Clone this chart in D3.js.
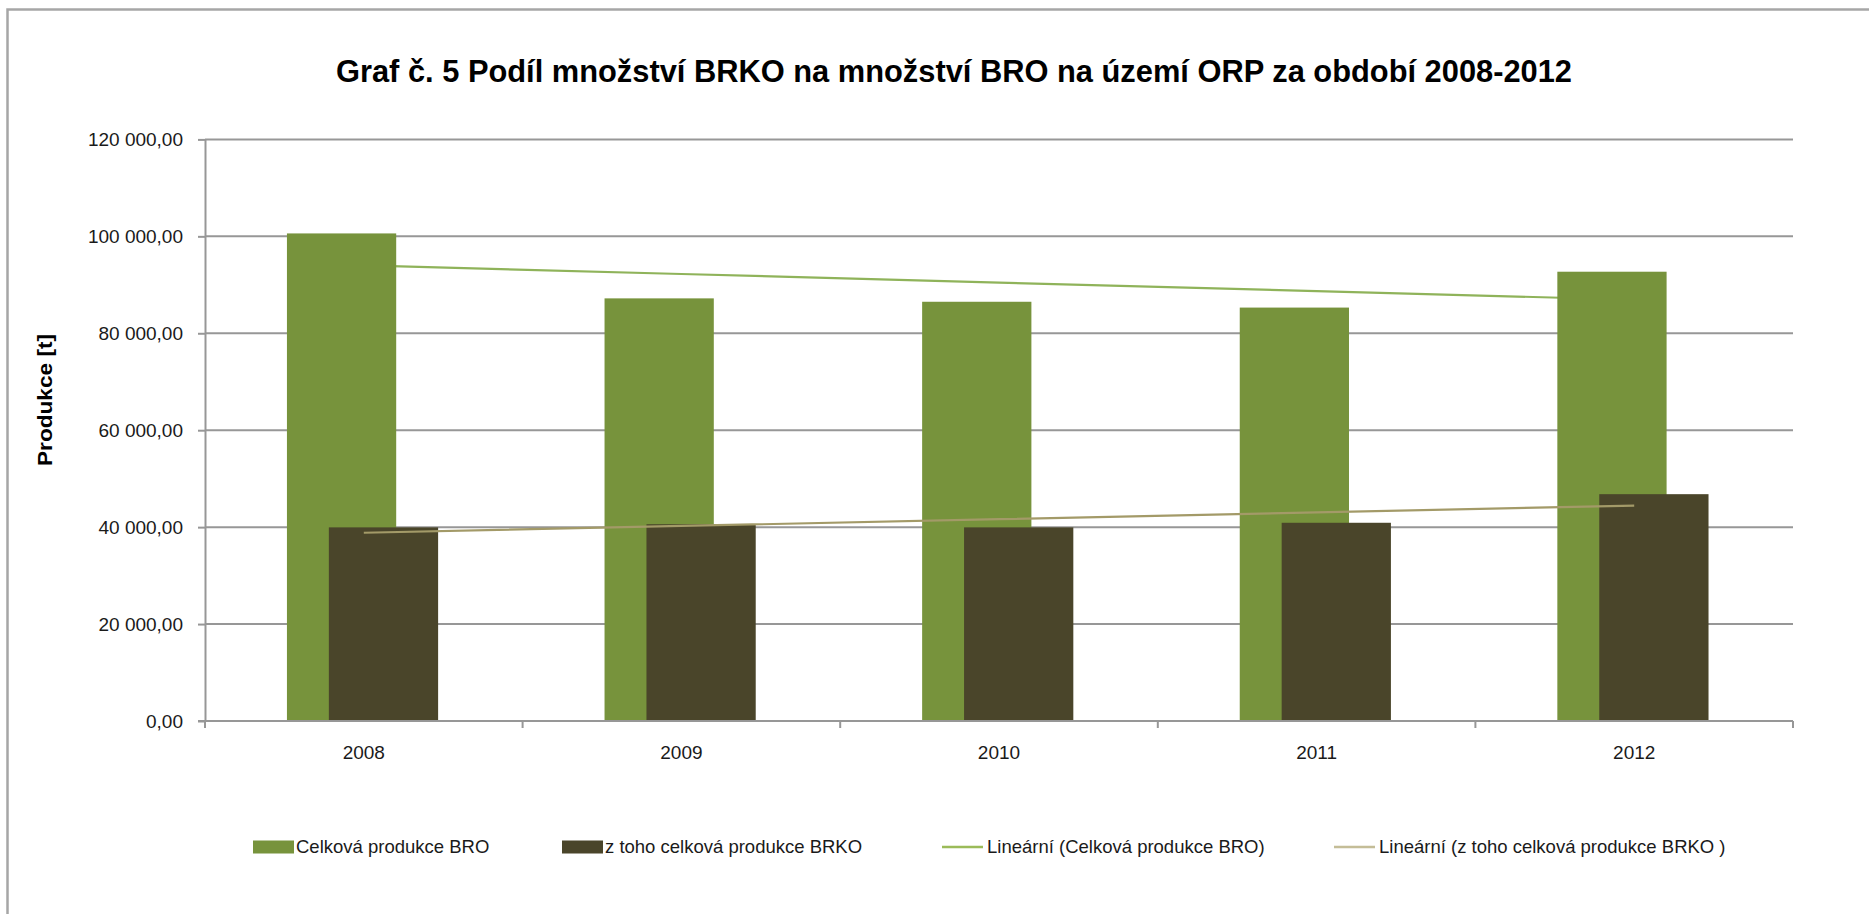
<!DOCTYPE html>
<html>
<head>
<meta charset="utf-8">
<script src="https://cdn.jsdelivr.net/npm/d3@7"></script>
<style>
  html, body { margin: 0; padding: 0; background: #ffffff; }
  svg { display: block; }
</style>
</head>
<body>
<svg id="chart" width="1869" height="914"></svg>
<script>
// ---------- data ----------
const title = "Graf č. 5 Podíl množství BRKO na množství BRO na území ORP za období 2008-2012";
const yAxisTitle = "Produkce [t]";
const categories = ["2008", "2009", "2010", "2011", "2012"];
const broValues  = [100600, 87200, 86500, 85300, 92700];   // Celková produkce BRO
const brkoValues = [39950, 40600, 39950, 40900, 46800];    // z toho celková produkce BRKO
const yTicks = [0, 20000, 40000, 60000, 80000, 100000, 120000];
const seriesNames = ["Celková produkce BRO", "z toho celková produkce BRKO"];
const trendNames = ["Lineární (Celková produkce BRO)", "Lineární (z toho celková produkce BRKO )"];

// ---------- layout ----------
const W = 1869, H = 914;
const plot = { left: 205, right: 1793, top: 139.4, bottom: 721 };
const colors = { bro: "#77933c", brko: "#4a452a", broTrend: "#8fb35a", brkoTrend: "#a39a68",
                 grid: "#979797", text: "#1a1a1a", border: "#a6a6a6" };
const svg = d3.select("#chart");

// outer chart border (left and top visible, right/bottom clipped)
svg.append("rect").attr("x", 7.5).attr("y", 9.5).attr("width", W + 20).attr("height", H + 20)
  .attr("fill", "#fff").attr("stroke", colors.border).attr("stroke-width", 2.5);

const x = d3.scaleBand().domain(categories).range([plot.left, plot.right]);
const y = d3.scaleLinear().domain([0, 120000]).range([plot.bottom, plot.top]);
const bw = x.bandwidth();

const cz = d3.formatLocale({ decimal: ",", thousands: " ", grouping: [3], currency: ["", " Kč"] });
const fmt = cz.format(",.2f");

// gridlines
svg.append("g").selectAll("line").data(yTicks.filter(d => d > 0)).join("line")
  .attr("x1", plot.left).attr("x2", plot.right)
  .attr("y1", d => y(d)).attr("y2", d => y(d))
  .attr("stroke", colors.grid).attr("stroke-width", 2);

// y axis
const yAxis = svg.append("g").attr("transform", `translate(${plot.left},0)`)
  .call(d3.axisLeft(y).tickValues(yTicks).tickFormat(fmt).tickSize(7).tickPadding(15).tickSizeOuter(0));
yAxis.select(".domain").attr("stroke", colors.grid).attr("stroke-width", 2);
yAxis.selectAll(".tick line").attr("stroke", colors.grid).attr("stroke-width", 2);
yAxis.selectAll("text").attr("font-family", "Liberation Sans, Arial, sans-serif")
  .attr("font-size", 19).attr("fill", colors.text);

// regression helper (Excel linear trendline over x = 1..n)
function linfit(vals) {
  const n = vals.length, xs = vals.map((_, i) => i + 1);
  const mx = d3.mean(xs), my = d3.mean(vals);
  const b = d3.sum(xs.map((xi, i) => (xi - mx) * (vals[i] - my))) / d3.sum(xs.map(xi => (xi - mx) ** 2));
  const a = my - b * mx;
  return xs.map(xi => a + b * xi);
}
const cx = c => x(c) + bw / 2;
const trendLine = d3.line().x(d => cx(d.c)).y(d => y(d.v));

// BRO trendline (sits under the bars)
const broFit = linfit(broValues);
svg.append("path").datum(categories.map((c, i) => ({ c, v: broFit[i] })))
  .attr("d", trendLine).attr("fill", "none").attr("stroke", colors.broTrend).attr("stroke-width", 2.2);

// bars
const offA = bw * 0.258, barW = bw * 0.344, shift = bw * 0.132;
svg.append("g").selectAll("rect").data(categories.map((c, i) => ({ c, v: broValues[i] }))).join("rect")
  .attr("x", d => x(d.c) + offA).attr("width", barW)
  .attr("y", d => y(d.v)).attr("height", d => y(0) - y(d.v))
  .attr("fill", colors.bro);
svg.append("g").selectAll("rect").data(categories.map((c, i) => ({ c, v: brkoValues[i] }))).join("rect")
  .attr("x", d => x(d.c) + offA + shift).attr("width", barW)
  .attr("y", d => y(d.v)).attr("height", d => y(0) - y(d.v))
  .attr("fill", colors.brko);

// BRKO trendline (over bars)
const brkoFit = linfit(brkoValues);
svg.append("path").datum(categories.map((c, i) => ({ c, v: brkoFit[i] })))
  .attr("d", trendLine).attr("fill", "none").attr("stroke", colors.brkoTrend).attr("stroke-width", 2.2);

// x axis
const xAxis = svg.append("g").attr("transform", `translate(0,${plot.bottom})`)
  .call(d3.axisBottom(x).tickSize(0).tickPadding(24.5));
xAxis.select(".domain").remove();
xAxis.selectAll("text").attr("font-family", "Liberation Sans, Arial, sans-serif")
  .attr("font-size", 19).attr("fill", colors.text);
svg.append("line").attr("x1", plot.left - 7).attr("x2", plot.right)
  .attr("y1", plot.bottom).attr("y2", plot.bottom).attr("stroke", colors.grid).attr("stroke-width", 2);
const bounds = categories.map(c => x(c)).concat([plot.right]);
svg.append("g").selectAll("line").data(bounds).join("line")
  .attr("x1", d => d).attr("x2", d => d).attr("y1", plot.bottom).attr("y2", plot.bottom + 7)
  .attr("stroke", colors.grid).attr("stroke-width", 2);

// title
svg.append("text").attr("x", 954).attr("y", 82).attr("text-anchor", "middle")
  .attr("font-family", "Liberation Sans, Arial, sans-serif").attr("font-weight", "bold")
  .attr("font-size", 31).attr("fill", "#000")
  .attr("textLength", 1236).attr("lengthAdjust", "spacingAndGlyphs").text(title);

// y axis title
svg.append("text").attr("transform", "translate(52,400) rotate(-90)").attr("text-anchor", "middle")
  .attr("font-family", "Liberation Sans, Arial, sans-serif").attr("font-weight", "bold")
  .attr("font-size", 21).attr("fill", "#000")
  .attr("textLength", 132).attr("lengthAdjust", "spacingAndGlyphs").text(yAxisTitle);

// legend
const legY = 847;
const legendItems = [
  { name: seriesNames[0], type: "rect", color: colors.bro, x: 253 },
  { name: seriesNames[1], type: "rect", color: colors.brko, x: 562 },
  { name: trendNames[0], type: "line", color: "#9bbb59", x: 942 },
  { name: trendNames[1], type: "line", color: "#c4bd97", x: 1334 }
];
const lg = svg.append("g").selectAll("g").data(legendItems).join("g");
lg.filter(d => d.type === "rect").append("rect")
  .attr("x", d => d.x).attr("y", legY - 6.5).attr("width", 41).attr("height", 13).attr("fill", d => d.color);
lg.filter(d => d.type === "line").append("line")
  .attr("x1", d => d.x).attr("x2", d => d.x + 41).attr("y1", legY).attr("y2", legY)
  .attr("stroke", d => d.color).attr("stroke-width", 2.5);
lg.append("text").attr("x", d => d.x + (d.type === "rect" ? 43 : 45)).attr("y", legY)
  .attr("dy", "0.35em").attr("font-family", "Liberation Sans, Arial, sans-serif")
  .attr("font-size", 18.5).attr("fill", colors.text).text(d => d.name);
</script>
</body>
</html>
